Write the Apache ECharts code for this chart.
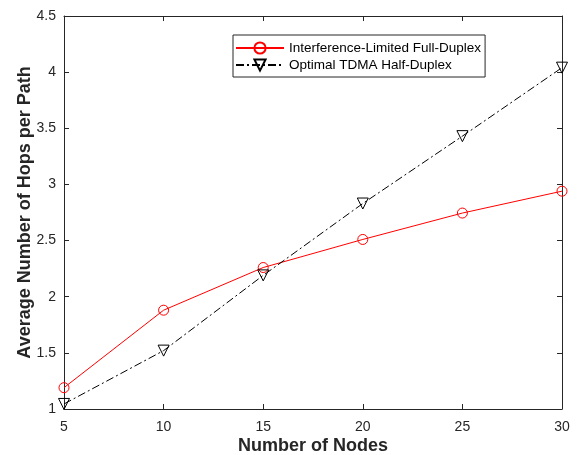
<!DOCTYPE html>
<html><head><meta charset="utf-8">
<script src="https://cdn.jsdelivr.net/npm/echarts@6/dist/echarts.min.js"></script>
<style>html,body{margin:0;padding:0;background:#fff}#c{width:579px;height:455px}</style>
</head><body><div id="c"></div>
<script>
var nodes = [5, 10, 15, 20, 25, 30];
var fullDuplex = [1.19, 1.88, 2.26, 2.51, 2.745, 2.94];
var tdmaHalf = [1.045, 1.52, 2.19, 2.83, 3.43, 4.04];
var seriesNames = ['Interference-Limited Full-Duplex', 'Optimal TDMA Half-Duplex'];

function pairs(xs, ys){ return xs.map(function(x,i){ return [x, ys[i]]; }); }
var font = 'Liberation Sans, Arial, Helvetica, sans-serif';
var axisLine = {show:true, onZero:false, lineStyle:{color:'#262626', width:1}};
var chart = echarts.init(document.getElementById('c'), null, {renderer:'canvas'});
chart.setOption({
  animation:false,
  backgroundColor:'#fff',
  grid:{left:64, right:17, top:16, bottom:46, containLabel:false, outerBoundsMode:'none'},
  legend:{
    left:233, top:35, orient:'vertical', itemGap:3, itemWidth:48, itemHeight:14,
    padding:[6,4,5,2], borderColor:'#262626', borderWidth:1, backgroundColor:'#fff',
    textStyle:{fontFamily:font, fontSize:13.5, color:'#000'},
    data:seriesNames
  },
  xAxis:[{
    type:'value', min:5, max:30, interval:5, position:'bottom',
    axisLine:axisLine, axisTick:{inside:true, length:5, lineStyle:{color:'#262626'}},
    axisLabel:{fontFamily:font, fontSize:14, color:'#262626', margin:11},
    splitLine:{show:false},
    name:'Number of Nodes', nameLocation:'middle', nameGap:28, nameMoveOverlap:false,
    nameTextStyle:{fontFamily:font, fontSize:18, fontWeight:'bold', color:'#262626'}
  },{
    type:'value', min:5, max:30, interval:5, position:'top',
    axisLine:axisLine, axisTick:{inside:true, length:5, lineStyle:{color:'#262626'}},
    axisLabel:{show:false}, splitLine:{show:false}
  }],
  yAxis:[{
    type:'value', min:1, max:4.5, interval:0.5, position:'left',
    axisLine:axisLine, axisTick:{inside:true, length:5, lineStyle:{color:'#262626'}},
    axisLabel:{fontFamily:font, fontSize:14, color:'#262626', margin:8},
    splitLine:{show:false},
    name:'Average Number of Hops per Path', nameLocation:'middle', nameGap:30, nameMoveOverlap:false,
    nameTextStyle:{fontFamily:font, fontSize:18, fontWeight:'bold', color:'#262626'}
  },{
    type:'value', min:1, max:4.5, interval:0.5, position:'right',
    axisLine:axisLine, axisTick:{inside:true, length:5, lineStyle:{color:'#262626'}},
    axisLabel:{show:false}, splitLine:{show:false}
  }],
  series:[{
    name:seriesNames[0], type:'line', data:pairs(nodes, fullDuplex),
    symbol:'circle', symbolSize:10,
    lineStyle:{color:'#ff0000', width:1},
    itemStyle:{color:'rgba(255,255,255,0)', borderColor:'#ff0000', borderWidth:1}
  },{
    name:seriesNames[1], type:'line', data:pairs(nodes, tdmaHalf),
    symbol:'triangle', symbolRotate:180, symbolSize:11,
    lineStyle:{color:'#000', width:1, type:[8,3,2,3]},
    itemStyle:{color:'rgba(0,0,0,0)', borderColor:'#000', borderWidth:1}
  }]
});
</script></body></html>
